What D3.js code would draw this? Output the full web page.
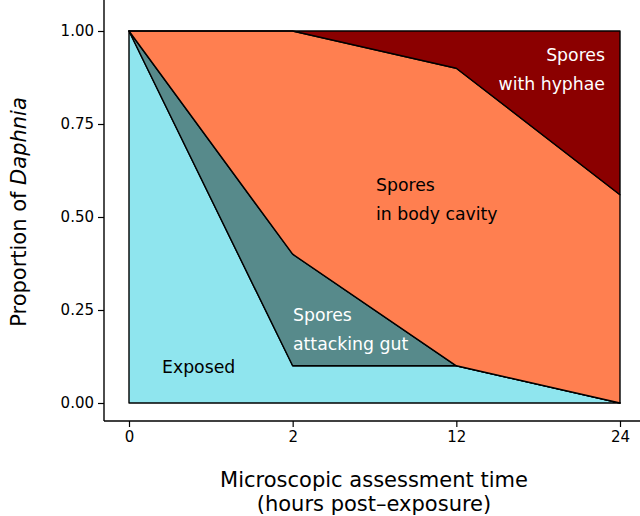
<!DOCTYPE html>
<html><head><meta charset="utf-8">
<script src="https://cdn.jsdelivr.net/npm/d3@7"></script>
<style>body{margin:0;background:#fff}svg{display:block}</style>
</head><body>
<svg id="c" width="640" height="516"></svg>
<script>
const times = ["0","2","12","24"];
const exposed = [1.0, 0.1, 0.1, 0.0];
const attackingGut = [0.0, 0.3, 0.0, 0.0];
const bodyCavity = [0.0, 0.6, 0.8, 0.56];
const withHyphae = [0.0, 0.0, 0.1, 0.44];
const layerNames = ["Exposed","Spores attacking gut","Spores in body cavity","Spores with hyphae"];
const layerColors = ["#8fe5ee","#578a8b","#ff7f50","#8b0000"];
const yTicks = [0, 0.25, 0.5, 0.75, 1.0];

const svg = d3.select("#c");
const font = "DejaVu Sans, sans-serif";
const x = d3.scalePoint().domain(times).range([129, 620]);
const y = d3.scaleLinear().domain([0,1]).range([403, 31]);

const rows = times.map((t,i)=>({t, a:exposed[i], b:attackingGut[i], c:bodyCavity[i], d:withHyphae[i]}));
const stack = d3.stack().keys(["a","b","c","d"]);
const series = stack(rows);
const area = d3.area().x(d=>x(d.data.t)).y0(d=>y(d[0])).y1(d=>y(d[1]));

svg.append("g").selectAll("path").data(series).join("path")
  .attr("d", area).attr("fill",(d,i)=>layerColors[i])
  .attr("stroke","#000").attr("stroke-width",1.4).attr("stroke-linejoin","round");

// axes
const gy = svg.append("g").attr("transform","translate(104,0)");
gy.append("line").attr("x1",0).attr("x2",0).attr("y1",0).attr("y2",421).attr("stroke","#000").attr("stroke-width",1.4);
const yAxis = d3.axisLeft(y).tickValues(yTicks).tickFormat(d3.format(".2f")).tickSize(6).tickPadding(4);
const ya = svg.append("g").attr("transform","translate(104,0)").call(yAxis);
ya.select(".domain").remove();
ya.selectAll("line").attr("stroke","#000").attr("stroke-width",1.2);
ya.selectAll("text").attr("font-family",font).attr("font-size",15).attr("fill","#000");

const gx = svg.append("g").attr("transform","translate(0,421)");
gx.append("line").attr("x1",104).attr("x2",640).attr("y1",0).attr("y2",0).attr("stroke","#000").attr("stroke-width",1.4);
const xAxis = d3.axisBottom(x).tickSize(6).tickPadding(4);
const xa = svg.append("g").attr("transform","translate(0,421)").call(xAxis);
xa.select(".domain").remove();
xa.selectAll("line").attr("stroke","#000").attr("stroke-width",1.2);
xa.selectAll("text").attr("font-family",font).attr("font-size",15).attr("fill","#000");

// axis titles
const xt = svg.append("text").attr("font-family",font).attr("font-size",21).attr("text-anchor","middle").attr("fill","#000");
xt.append("tspan").attr("x",374).attr("y",487).text("Microscopic assessment time");
xt.append("tspan").attr("x",374).attr("y",511).text("(hours post\u2013exposure)");

const yt = svg.append("text").attr("font-family",font).attr("font-size",21).attr("text-anchor","middle").attr("fill","#000")
  .attr("transform","translate(26,212) rotate(-90)");
yt.append("tspan").text("Proportion of ");
yt.append("tspan").attr("font-style","italic").text("Daphnia");

// labels
function label(lines, xp, yp, anchor, color){
  const t = svg.append("text").attr("font-family",font).attr("font-size",17.3).attr("text-anchor",anchor).attr("fill",color);
  lines.forEach((l,i)=>t.append("tspan").attr("x",xp).attr("y",yp+i*29).text(l));
}
label(["Exposed"],162,373,"start","#000");
label(["Spores","attacking gut"],293,321,"start","#fff");
label(["Spores","in body cavity"],376,191,"start","#000");
label(["Spores","with hyphae"],605,61,"end","#fff");
</script>
</body></html>
